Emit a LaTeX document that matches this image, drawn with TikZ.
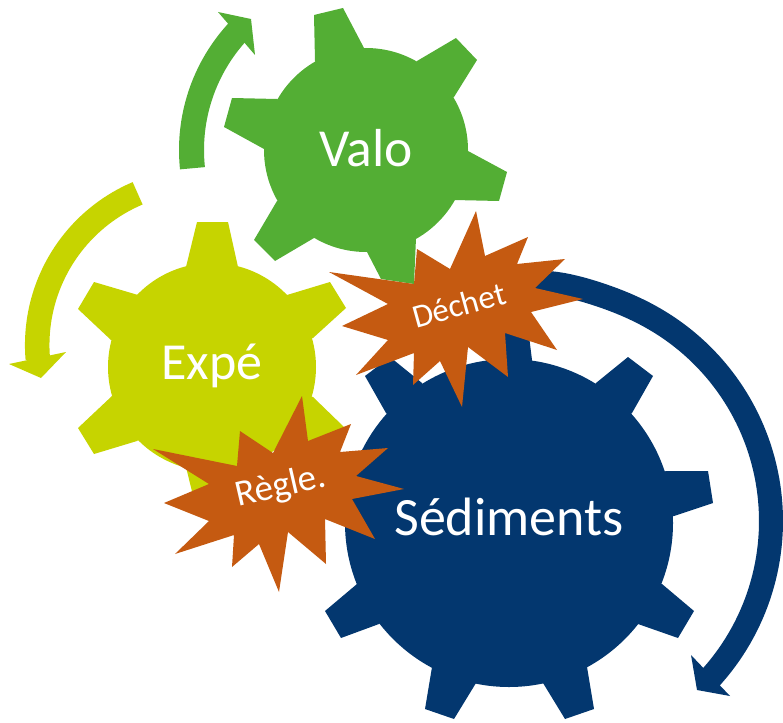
\documentclass[tikz,border=0pt]{standalone}
\usepackage{xcolor}
\usepackage{fontspec}
\setmainfont{Carlito}
\definecolor{valogreen}{HTML}{53AE34}
\definecolor{expeyellow}{HTML}{C6D400}
\definecolor{sedinavy}{HTML}{03376F}
\definecolor{burstorange}{HTML}{C55A11}

\begin{document}
\begin{tikzpicture}[x=1pt, y=-1pt,
            gear/.style={circle, inner sep=0pt, outer sep=0pt},
            lbl/.style={text=white, inner sep=0pt},
            burst/.style={fill=burstorange}]
            \useasboundingbox (0,0) rectangle (783,722);

            % arrows
            \draw[line width=25pt, valogreen] plot[domain=174:223, samples=40] ({366+174.5*cos(\x)},{150+174.5*sin(\x)});
            \fill[valogreen] (218,12) -- (251,19) -- (255,55) -- cycle;
            \draw[line width=24.5pt, expeyellow] plot[domain=247:175, samples=40] ({202+164.8*cos(\x)},{345+164.8*sin(\x)});
            \fill[expeyellow] (9,364) -- (41,378) -- (66,352) -- cycle;
            \draw[line width=24pt, sedinavy] plot[domain=-100:43, samples=90]
                ({537.5+(233.5+5*pow(abs(sin(\x)),40))*cos(\x)},{521+(233.5+5*pow(abs(sin(\x)),40))*sin(\x)});
            \fill[sedinavy] (691,655) -- (697,690) -- (730,696) -- cycle;

            % gears
            \node[gear, fill=valogreen, minimum size=204pt] (valo) at (366,150) {};
            \foreach \ax/\ay/\bx/\by/\cx/\cy/\dx/\dy in {315/61/314/15/343/8/364/48, 417/61/456/38/477/60/454/97,
                468/151/507/172/499/201/454/200, 416/238/414/284/381/279/367/252,
                314/238/275/261/254/240/277/201, 264/149/224/127/232/98/277/99}
                \fill[valogreen] (\ax,\ay) -- (\bx,\by) -- (\cx,\cy) -- (\dx,\dy) -- (valo.center) -- cycle;

            \node[gear, fill=expeyellow, minimum size=208pt] (expe) at (212,367) {};
            \foreach \ax/\ay/\bx/\by/\cx/\cy/\dx/\dy in {186/267/197/222/228/222/238/267, 138/295/94/282/78/309/111/340,
                287/295/330/282/346/308/313/338, 313/397/344/427/330/452/287/439,
                186/467/197/512/228/512/238/467, 112/396/78/428/94/454/137/441}
                \fill[expeyellow] (\ax,\ay) -- (\bx,\by) -- (\cx,\cy) -- (\dx,\dy) -- (expe.center) -- cycle;

            \node[gear, fill=sedinavy, minimum size=328pt] (sedi) at (509,523) {};
            \foreach \ax/\ay/\bx/\by/\cx/\cy/\dx/\dy in {486/360/489/320/527/320/532/360, 596/383/628/357/653/376/632/413,
                666/471/708/471/713/503/674/516, 662/584/694/611/678/638/638/624,
                587/667/594/709/565/719/543/683, 476/683/454/719/425/709/432/667,
                379/624/341/638/325/611/357/584, 344/516/305/503/310/471/352/471,
                386/413/365/376/390/357/422/383}
                \fill[sedinavy] (\ax,\ay) -- (\bx,\by) -- (\cx,\cy) -- (\dx,\dy) -- (sedi.center) -- cycle;

            % bursts
            \fill[burst] (476,211) -- (485,256) -- (528,237) -- (517,264) -- (565,259) -- (535,288) -- (583,299) -- (531,312)
                -- (557,350) -- (505,333) -- (508,377) -- (468,347) -- (462,407) -- (440,361) -- (413,385) -- (414,353)
                -- (356,375) -- (388,340) -- (342,326) -- (388,304) -- (329,272) -- (414,284) -- (417,249) -- (450,269) -- cycle;
            \fill[burst] (302,396) -- (308,441) -- (351,424) -- (340,452) -- (388,448) -- (356,476) -- (404,489) -- (352,499)
                -- (375,539) -- (325,519) -- (326,564) -- (288,532) -- (279,592) -- (259,544) -- (232,567) -- (234,535)
                -- (175,554) -- (209,521) -- (164,503) -- (209,484) -- (153,449) -- (237,466) -- (240,431) -- (273,453) -- cycle;

            \node[lbl, font=\fontsize{53.5}{60}\selectfont] (valotxt) at (366,148) {Valo};
            \node[lbl, font=\fontsize{52}{60}\selectfont] (expetxt) at (212,366) {Expé};
            \node[lbl, font=\fontsize{54}{60}\selectfont] (seditxt) at (509,517) {Sédiments};
            \node[lbl, font=\fontsize{33}{40}\selectfont, rotate=15.5] (dechettxt) at (459,305) {Déchet};
            \node[lbl, font=\fontsize{37}{40}\selectfont, rotate=13] (regletxt) at (281,487) {Règle.};
        \end{tikzpicture}
\end{document}
